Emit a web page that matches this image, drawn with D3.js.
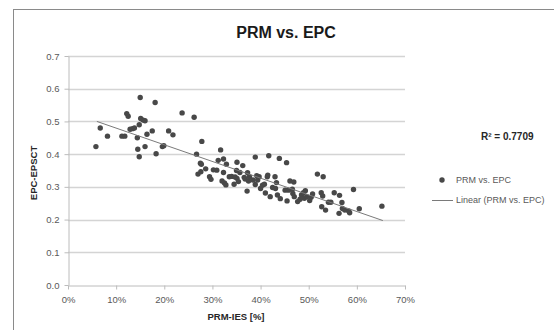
<!DOCTYPE html>
<html>
<head>
<meta charset="utf-8">
<script src="https://cdn.jsdelivr.net/npm/d3@7"></script>
<style>
  body { margin: 0; background: #fff; }
  svg { display: block; font-family: "Liberation Sans", Arial, sans-serif; }
</style>
</head>
<body>
<div id="chart"></div>
<script>
// PRM-IES share (fraction) and EPC-EPSCT ratio
const prmValues = [
  0.058, 0.067, 0.082, 0.112, 0.118, 0.122, 0.125, 0.129, 0.134, 0.138,
  0.144, 0.145, 0.148, 0.148, 0.150, 0.151, 0.156, 0.160, 0.160, 0.164,
  0.175, 0.181, 0.183, 0.196, 0.199, 0.209, 0.218, 0.237, 0.262, 0.267,
  0.270, 0.275, 0.276, 0.277, 0.278, 0.286, 0.294, 0.297, 0.302, 0.309,
  0.312, 0.317, 0.320, 0.323, 0.323, 0.325, 0.328, 0.329, 0.335, 0.340,
  0.345, 0.347, 0.350, 0.351, 0.351, 0.354, 0.357, 0.363, 0.366, 0.368,
  0.372, 0.373, 0.375, 0.377, 0.384, 0.389, 0.389, 0.392, 0.394, 0.397,
  0.400, 0.404, 0.408, 0.410, 0.414, 0.415, 0.417, 0.420, 0.425, 0.430,
  0.431, 0.433, 0.435, 0.439, 0.441, 0.451, 0.454, 0.455, 0.458, 0.461,
  0.466, 0.469, 0.467, 0.470, 0.477, 0.482, 0.485, 0.489, 0.491, 0.493,
  0.496, 0.502, 0.505, 0.508, 0.518, 0.526, 0.527, 0.529, 0.530, 0.535,
  0.541, 0.546, 0.553, 0.563, 0.564, 0.569, 0.570, 0.575, 0.583, 0.585,
  0.593, 0.605, 0.652
];
const epcValues = [
  0.423, 0.480, 0.455, 0.455, 0.455, 0.524, 0.516, 0.476, 0.478, 0.480,
  0.450, 0.415, 0.392, 0.490, 0.573, 0.509, 0.504, 0.502, 0.423, 0.461,
  0.471, 0.558, 0.401, 0.423, 0.426, 0.471, 0.459, 0.526, 0.513, 0.400,
  0.339, 0.372, 0.346, 0.369, 0.439, 0.355, 0.331, 0.323, 0.352, 0.351,
  0.381, 0.413, 0.318, 0.385, 0.344, 0.312, 0.306, 0.369, 0.331, 0.332,
  0.308, 0.330, 0.350, 0.375, 0.326, 0.316, 0.344, 0.365, 0.329, 0.324,
  0.287, 0.343, 0.318, 0.331, 0.321, 0.391, 0.307, 0.334, 0.321, 0.331,
  0.295, 0.305, 0.308, 0.281, 0.331, 0.336, 0.395, 0.270, 0.298, 0.331,
  0.295, 0.313, 0.275, 0.387, 0.264, 0.290, 0.374, 0.257, 0.290, 0.318,
  0.293, 0.315, 0.280, 0.270, 0.255, 0.262, 0.275, 0.282, 0.265, 0.288,
  0.270, 0.258, 0.268, 0.278, 0.339, 0.282, 0.239, 0.272, 0.331, 0.229,
  0.253, 0.253, 0.282, 0.219, 0.274, 0.252, 0.234, 0.229, 0.226, 0.221,
  0.292, 0.233, 0.241
];
// linear trend line end points
const trendX = [0.060, 0.654];
const trendY = [0.500, 0.197];
const xTicks = [0, 0.1, 0.2, 0.3, 0.4, 0.5, 0.6, 0.7];
const yTicks = [0, 0.1, 0.2, 0.3, 0.4, 0.5, 0.6, 0.7];
const rSquared = "R² = 0.7709";

const width = 554, height = 330;
const margin = { top: 56, right: 149, bottom: 45, left: 68 };

const svg = d3.select('#chart').append('svg')
  .attr('width', width)
  .attr('height', height);

// chart frame (cut off at right and bottom like the screenshot)
svg.append('rect')
  .attr('x', 13.5).attr('y', 9.5)
  .attr('width', 700).attr('height', 400)
  .attr('fill', 'none')
  .attr('stroke', '#8a8a8a');

const x = d3.scaleLinear().domain([0, 0.7]).range([margin.left, width - margin.right]);
const y = d3.scaleLinear().domain([0, 0.7]).range([height - margin.bottom, margin.top]);

// gridlines
svg.append('g')
  .selectAll('line')
  .data(yTicks.filter(d => d > 0))
  .join('line')
  .attr('x1', x(0)).attr('x2', x(0.7))
  .attr('y1', d => Math.round(y(d)) + 0.5).attr('y2', d => Math.round(y(d)) + 0.5)
  .attr('stroke', '#d4d4d4')
  .attr('stroke-width', 1.3);

// x axis
const xAxis = svg.append('g')
  .attr('transform', `translate(0,${Math.round(y(0)) + 0.5})`)
  .call(d3.axisBottom(x).tickValues(xTicks).tickFormat(d3.format('.0%')).tickSize(4).tickSizeOuter(0));

// y axis
const yAxis = svg.append('g')
  .attr('transform', `translate(${Math.round(x(0)) + 0.5},0)`)
  .call(d3.axisLeft(y).tickValues(yTicks).tickFormat(d3.format('.1f')).tickSize(4).tickSizeOuter(0));

[xAxis, yAxis].forEach(g => {
  g.select('.domain').attr('stroke', '#bcbcbc');
  g.selectAll('.tick line').attr('stroke', '#bcbcbc');
  g.selectAll('.tick text')
    .attr('fill', '#595959')
    .style('font-size', '9.5px')
    .style('font-family', '"Liberation Sans", Arial, sans-serif');
});
xAxis.selectAll('.tick text').attr('dy', '1.15em');
yAxis.selectAll('.tick text').attr('x', -9);

// points
const points = prmValues.map((v, i) => ({ px: v, py: epcValues[i] }));
svg.append('g')
  .selectAll('circle')
  .data(points)
  .join('circle')
  .attr('cx', d => x(d.px))
  .attr('cy', d => y(d.py))
  .attr('r', 2.7)
  .attr('fill', '#484848');

// trend line
const line = d3.line()
  .x(d => x(d[0]))
  .y(d => y(d[1]));
svg.append('path')
  .datum(trendX.map((v, i) => [v, trendY[i]]))
  .attr('fill', 'none')
  .attr('stroke', '#7a7a7a')
  .attr('stroke-width', 1)
  .attr('d', line);

// title and labels
svg.append('text')
  .attr('x', 286).attr('y', 38)
  .attr('text-anchor', 'middle')
  .style('font-size', '16px').style('font-weight', 'bold')
  .attr('fill', '#1a1a1a')
  .text('PRM vs. EPC');

svg.append('text')
  .attr('x', 236).attr('y', 320)
  .attr('text-anchor', 'middle')
  .style('font-size', '9.5px').style('font-weight', 'bold')
  .attr('fill', '#262626')
  .text('PRM-IES [%]');

svg.append('text')
  .attr('transform', 'translate(37,173) rotate(-90)')
  .attr('text-anchor', 'middle')
  .style('font-size', '9.5px').style('font-weight', 'bold')
  .attr('fill', '#262626')
  .text('EPC-EPSCT');

svg.append('text')
  .attr('x', 481).attr('y', 140)
  .style('font-size', '10px').style('font-weight', 'bold')
  .attr('fill', '#262626')
  .text(rSquared);

// legend
svg.append('circle').attr('cx', 442).attr('cy', 180).attr('r', 2.7).attr('fill', '#484848');
svg.append('text').attr('x', 456).attr('y', 180).attr('dy', '0.35em')
  .style('font-size', '9px').attr('fill', '#595959').text('PRM vs. EPC');
svg.append('line').attr('x1', 432).attr('x2', 453).attr('y1', 200.5).attr('y2', 200.5)
  .attr('stroke', '#7a7a7a').attr('stroke-width', 1);
svg.append('text').attr('x', 456).attr('y', 200).attr('dy', '0.35em')
  .style('font-size', '9px').attr('fill', '#595959').text('Linear (PRM vs. EPC)');
</script>
</body>
</html>
